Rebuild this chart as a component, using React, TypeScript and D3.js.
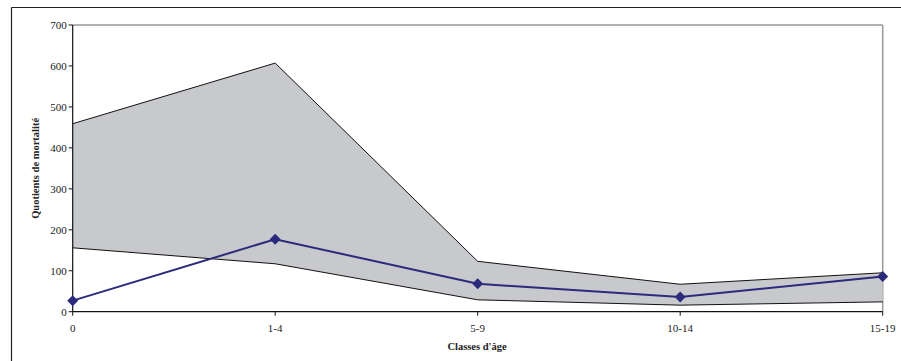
import React from "react";
import * as d3 from "d3";

const categories = ["0", "1-4", "5-9", "10-14", "15-19"];
const upperBound = [459, 607, 123, 67, 95];
const lowerBound = [156, 117, 29, 16, 24];
const observed = [27, 177, 68, 36, 86];
const yTicks = [0, 100, 200, 300, 400, 500, 600, 700];

const W = 901;
const H = 361;
const m = { left: 72.7, top: 25, right: 882.7, bottom: 311.7 };

export default function App() {
  const x = d3.scalePoint<string>().domain(categories).range([m.left, m.right]).padding(0);
  const y = d3.scaleLinear().domain([0, 700]).range([m.bottom, m.top]);

  const band = d3
    .area<number>()
    .x((_, i) => x(categories[i]) as number)
    .y0((_, i) => y(lowerBound[i]))
    .y1((d) => y(d));
  const line = d3
    .line<number>()
    .x((_, i) => x(categories[i]) as number)
    .y((d) => y(d));
  const font = "'Liberation Serif', 'Times New Roman', serif";

  return (
    <svg
      width={W}
      height={H}
      style={{ position: "absolute", left: 0, top: 0, background: "#fff" }}
      fontFamily={font}
    >
      {/* outer frame */}
      <line x1={11.5} x2={W} y1={7.5} y2={7.5} stroke="#222" strokeWidth={1.2} />
      <line x1={11.5} x2={11.5} y1={7.5} y2={H} stroke="#222" strokeWidth={1.2} />

      {/* plot area border */}
      <line x1={m.left} x2={m.right} y1={m.top} y2={m.top} stroke="#999" strokeWidth={1.5} />
      <line x1={m.right} x2={m.right} y1={m.top} y2={m.bottom} stroke="#999" strokeWidth={1.5} />

      {/* band */}
      <path d={band(upperBound) || ""} fill="#c8c9cc" stroke="none" />
      <path d={line(upperBound) || ""} fill="none" stroke="#111" strokeWidth={1} />
      <path d={line(lowerBound) || ""} fill="none" stroke="#111" strokeWidth={1} />

      {/* axes */}
      <line x1={m.left} x2={m.left} y1={m.top} y2={m.bottom} stroke="#111" strokeWidth={1.2} />
      <line x1={m.left} x2={m.right} y1={m.bottom} y2={m.bottom} stroke="#111" strokeWidth={1.2} />
      {yTicks.map((t) => (
        <g key={t}>
          <line x1={m.left - 4} x2={m.left} y1={y(t)} y2={y(t)} stroke="#111" strokeWidth={1} />
          <text x={m.left - 6} y={y(t)} dy="0.35em" textAnchor="end" fontSize={11} fill="#222">
            {t}
          </text>
        </g>
      ))}
      {categories.map((c) => (
        <g key={c}>
          <line x1={x(c)} x2={x(c)} y1={m.bottom} y2={m.bottom + 4} stroke="#111" strokeWidth={1} />
          <text x={x(c)} y={328} dy="0.35em" textAnchor="middle" fontSize={11} fill="#222">
            {c}
          </text>
        </g>
      ))}

      {/* observed line */}
      <path d={line(observed) || ""} fill="none" stroke="#2b2a7c" strokeWidth={2} />
      {observed.map((v, i) => {
        const cx = x(categories[i]) as number;
        const cy = y(v);
        const r = 5.5;
        return (
          <path
            key={i}
            d={`M${cx},${cy - r}L${cx + r},${cy}L${cx},${cy + r}L${cx - r},${cy}Z`}
            fill="#2b2a7c"
          />
        );
      })}

      {/* titles */}
      <text x={477} y={346} dy="0.35em" textAnchor="middle" fontSize={10.5} fontWeight="bold" fill="#222">
        Classes d'âge
      </text>
      <text
        transform={`translate(35,${(m.top + m.bottom) / 2}) rotate(-90)`}
        textAnchor="middle"
        dy="0.35em"
        fontSize={10.5}
        fontWeight="bold"
        fill="#222"
      >
        Quotients de mortalité
      </text>
    </svg>
  );
}
